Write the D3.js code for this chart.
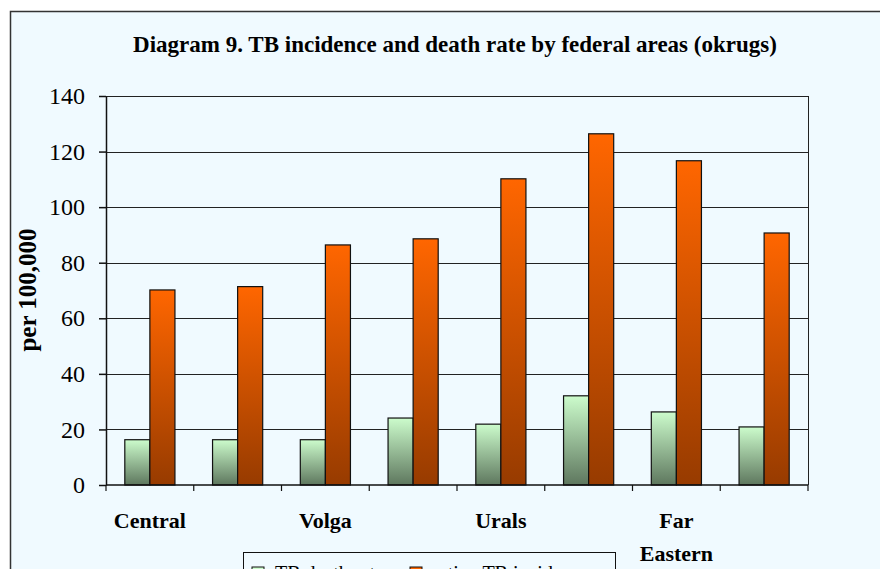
<!DOCTYPE html>
<meta charset="utf-8">
<head>
	<title>Diagram 9</title>
	<script src="https://cdn.jsdelivr.net/npm/d3@7/dist/d3.min.js"></script>
	<style>
		body { margin: 0; background: #fff; }
		text { font-family: "Liberation Serif", "Times New Roman", serif; }
	</style>
</head>
<body>
	<svg width="880" height="569" id="chart"></svg>
	<script>
		// values
		var categories = ["Central", "North-Western", "Volga", "Southern", "Urals", "Siberian", "Far Eastern", "Russia"];
		var deathRate = [16.3, 16.3, 16.3, 24.1, 21.9, 32.1, 26.3, 20.9];
		var incidence = [70.2, 71.4, 86.4, 88.6, 110.2, 126.4, 116.7, 90.7];
		var yTicks = [0, 20, 40, 60, 80, 100, 120, 140];
		var seriesNames = ["TB death rate", "active TB incidence"];

		var svg = d3.select("#chart");

		var pLeft = 106, pRight = 808, pTop = 96, pBottom = 485;

		var x = d3.scaleBand().domain(categories).range([pLeft, pRight]).paddingInner(0).paddingOuter(0);
		var xs = d3.scaleBand().domain(seriesNames).range([0, x.bandwidth()]).paddingInner(0).paddingOuter(0.75);
		var y = d3.scaleLinear().domain([0, 140]).range([pBottom, pTop]);

		// gradients
		var defs = svg.append("defs");
		var gGreen = defs.append("linearGradient").attr("id", "gGreen")
			.attr("x1", 0).attr("y1", 0).attr("x2", 0).attr("y2", 1);
		gGreen.append("stop").attr("offset", "0%").attr("stop-color", "#ccfccc");
		gGreen.append("stop").attr("offset", "100%").attr("stop-color", "#5e775e");
		var gOrange = defs.append("linearGradient").attr("id", "gOrange")
			.attr("x1", 0).attr("y1", 0).attr("x2", 0).attr("y2", 1);
		gOrange.append("stop").attr("offset", "0%").attr("stop-color", "#ff6600");
		gOrange.append("stop").attr("offset", "100%").attr("stop-color", "#973b00");

		// chart area
		svg.append("rect")
			.attr("x", 10.5).attr("y", 11.5)
			.attr("width", 900).attr("height", 600)
			.attr("fill", "#f0faff")
			.attr("stroke", "#333")
			.attr("stroke-width", 1.5);

		svg.append("text")
			.attr("x", 455)
			.attr("y", 52)
			.attr("text-anchor", "middle")
			.attr("font-size", "23px")
			.attr("font-weight", "bold")
			.text("Diagram 9. TB incidence and death rate by federal areas (okrugs)");

		// gridlines
		svg.append("g")
			.selectAll("line.grid")
			.data(yTicks.filter(function (d) { return d > 0; }))
			.enter()
			.append("line")
			.attr("class", "grid")
			.attr("x1", pLeft).attr("x2", pRight)
			.attr("y1", function (d) { return Math.round(y(d)) + 0.5; })
			.attr("y2", function (d) { return Math.round(y(d)) + 0.5; })
			.attr("stroke", "#222")
			.attr("stroke-width", 1);

		// right border
		svg.append("line")
			.attr("x1", pRight + 0.5).attr("x2", pRight + 0.5)
			.attr("y1", pTop).attr("y2", pBottom)
			.attr("stroke", "#222");

		// bars
		var groups = svg.append("g")
			.selectAll("g.cat")
			.data(categories)
			.enter()
			.append("g")
			.attr("class", "cat")
			.attr("transform", function (d) { return "translate(" + x(d) + ",0)"; });

		groups.append("rect")
			.attr("x", xs(seriesNames[0]))
			.attr("y", function (d, i) { return y(deathRate[i]); })
			.attr("width", xs.bandwidth())
			.attr("height", function (d, i) { return pBottom - y(deathRate[i]); })
			.attr("fill", "url(#gGreen)")
			.attr("stroke", "#111")
			.attr("stroke-width", 1.2);

		groups.append("rect")
			.attr("x", xs(seriesNames[1]))
			.attr("y", function (d, i) { return y(incidence[i]); })
			.attr("width", xs.bandwidth())
			.attr("height", function (d, i) { return pBottom - y(incidence[i]); })
			.attr("fill", "url(#gOrange)")
			.attr("stroke", "#111")
			.attr("stroke-width", 1.2);

		// y axis
		var yAxis = svg.append("g")
			.attr("transform", "translate(" + pLeft + ",0)")
			.call(d3.axisLeft(y).tickValues(yTicks).tickSize(7).tickSizeOuter(0).tickPadding(14));
		yAxis.selectAll("text")
			.attr("font-size", "24px")
			.attr("font-family", "'Liberation Serif', 'Times New Roman', serif")
			.attr("fill", "#000");
		yAxis.selectAll("line, path").attr("stroke", "#111").attr("stroke-width", 1.5);

		// x axis
		var xAxis = svg.append("g")
			.attr("transform", "translate(0," + pBottom + ")");
		xAxis.append("line")
			.attr("x1", pLeft).attr("x2", pRight)
			.attr("stroke", "#111").attr("stroke-width", 1.5);
		xAxis.selectAll("line.tick")
			.data(categories.concat(["end"]))
			.enter()
			.append("line")
			.attr("class", "tick")
			.attr("x1", function (d, i) { return pLeft + i * x.step(); })
			.attr("x2", function (d, i) { return pLeft + i * x.step(); })
			.attr("y1", 0).attr("y2", 6)
			.attr("stroke", "#111").attr("stroke-width", 1.2);

		var xlab = xAxis.selectAll("text.cat")
			.data(categories)
			.enter()
			.filter(function (d, i) { return i % 2 == 0; })
			.append("text")
			.attr("class", "cat")
			.attr("x", function (d) { return x(d) + x.bandwidth() / 2; })
			.attr("y", 43)
			.attr("text-anchor", "middle")
			.attr("font-size", "22px")
			.attr("font-weight", "bold");
		xlab.each(function (d) {
			var words = d.split(" ");
			var t = d3.select(this);
			words.forEach(function (w, j) {
				t.append("tspan")
					.attr("x", x(d) + x.bandwidth() / 2)
					.attr("dy", j == 0 ? 0 : 33)
					.text(w);
			});
		});

		// y title
		svg.append("text")
			.attr("transform", "translate(36,290) rotate(-90)")
			.attr("text-anchor", "middle")
			.attr("font-size", "25px")
			.attr("font-weight", "bold")
			.text("per 100,000");

		// legend (cut off by page bottom)
		var legend = svg.append("g").attr("transform", "translate(243,552)");
		legend.append("rect")
			.attr("x", 0.5).attr("y", 0.5)
			.attr("width", 372).attr("height", 40)
			.attr("fill", "#f0faff")
			.attr("stroke", "#111");
		var items = legend.selectAll("g.item")
			.data(seriesNames)
			.enter()
			.append("g")
			.attr("class", "item")
			.attr("transform", function (d, i) { return "translate(" + (i == 0 ? 9 : 167) + ",0)"; });
		items.append("rect")
			.attr("x", 0).attr("y", 15)
			.attr("width", 12).attr("height", 12)
			.attr("fill", function (d, i) { return i == 0 ? "#ccfccc" : "#ff6600"; })
			.attr("stroke", "#111");
		items.append("text")
			.attr("x", function (d, i) { return i == 0 ? 23 : 20; })
			.attr("y", 28)
			.attr("font-size", "20px")
			.text(function (d) { return d; });
	</script>
</body>
